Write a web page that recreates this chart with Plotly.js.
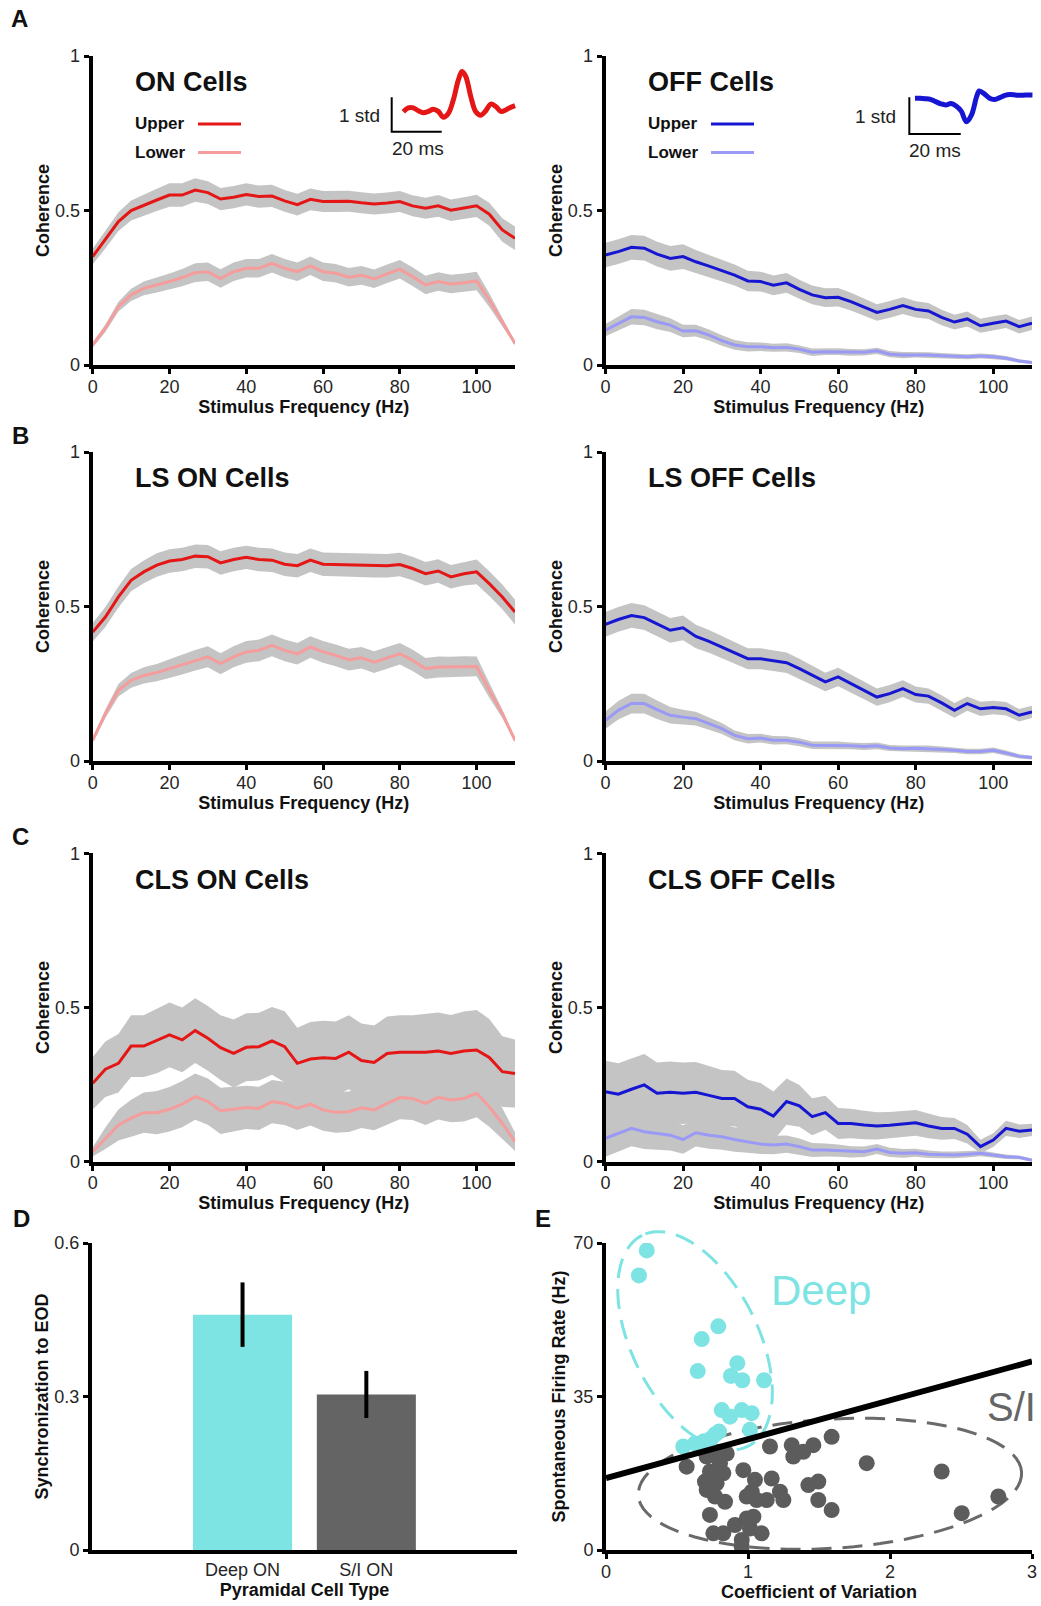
<!DOCTYPE html>
<html><head><meta charset="utf-8">
<script src="https://cdn.plot.ly/plotly-3.0.1.min.js"></script>
<style>html,body{margin:0;padding:0;background:#fff}#chart{width:1041px;height:1606px}</style>
</head><body><div id="chart"></div>
<script>
// ---------------- DATA ----------------
const freq = [0,3.3,6.7,10,13.3,16.7,20,23.3,26.7,30,33.3,36.7,40,43.3,46.7,50,53.3,56.7,60,63.3,66.7,70,73.3,76.7,80,83.3,86.7,90,93.3,96.7,100,103.3,106.7,110];
const freqTicks = [0,20,40,60,80,100];

// A: ON / OFF cells
const aOnUpper = [0.351,0.405,0.464,0.500,0.518,0.534,0.550,0.550,0.566,0.558,0.537,0.543,0.552,0.545,0.547,0.531,0.519,0.536,0.529,0.529,0.530,0.525,0.521,0.524,0.529,0.515,0.507,0.515,0.501,0.508,0.515,0.488,0.437,0.410];
const aOnUpperErr = [0.025,0.028,0.030,0.032,0.034,0.036,0.038,0.038,0.038,0.037,0.036,0.036,0.036,0.036,0.036,0.035,0.035,0.035,0.034,0.034,0.034,0.034,0.034,0.034,0.034,0.034,0.034,0.035,0.035,0.035,0.036,0.037,0.038,0.038];
const aOnLower = [0.065,0.119,0.189,0.227,0.248,0.259,0.270,0.283,0.299,0.302,0.280,0.302,0.313,0.313,0.329,0.313,0.302,0.321,0.302,0.297,0.284,0.290,0.279,0.295,0.310,0.286,0.259,0.270,0.262,0.266,0.272,0.210,0.140,0.070];
const aOnLowerErr = [0.008,0.012,0.016,0.020,0.022,0.024,0.026,0.028,0.030,0.030,0.030,0.030,0.030,0.030,0.030,0.030,0.030,0.030,0.030,0.030,0.030,0.030,0.030,0.030,0.030,0.030,0.030,0.030,0.030,0.030,0.030,0.022,0.014,0.006];
const aOffUpper = [0.356,0.367,0.381,0.378,0.359,0.345,0.351,0.334,0.320,0.305,0.291,0.272,0.270,0.258,0.266,0.245,0.227,0.218,0.219,0.205,0.187,0.170,0.180,0.192,0.180,0.175,0.154,0.139,0.149,0.127,0.135,0.142,0.124,0.135];
const aOffUpperErr = [0.040,0.040,0.040,0.040,0.040,0.040,0.040,0.038,0.036,0.035,0.034,0.033,0.032,0.032,0.032,0.031,0.030,0.030,0.030,0.029,0.028,0.027,0.027,0.027,0.026,0.026,0.025,0.024,0.024,0.023,0.023,0.022,0.022,0.022];
const aOffLower = [0.113,0.135,0.156,0.154,0.140,0.129,0.110,0.111,0.097,0.079,0.065,0.059,0.059,0.056,0.057,0.051,0.041,0.043,0.043,0.041,0.041,0.046,0.035,0.032,0.033,0.032,0.030,0.029,0.027,0.029,0.027,0.022,0.013,0.008];
const aOffLowerErr = [0.020,0.022,0.025,0.025,0.024,0.022,0.020,0.019,0.018,0.017,0.016,0.015,0.014,0.013,0.013,0.012,0.012,0.011,0.011,0.011,0.010,0.010,0.010,0.010,0.009,0.009,0.009,0.008,0.008,0.008,0.008,0.007,0.006,0.005];

// B: LS ON / LS OFF
const bOnUpper = [0.417,0.466,0.531,0.585,0.612,0.634,0.647,0.652,0.663,0.661,0.641,0.652,0.659,0.652,0.650,0.637,0.632,0.650,0.637,0.636,0.634,0.634,0.632,0.632,0.636,0.623,0.606,0.615,0.596,0.606,0.612,0.574,0.531,0.482];
const bOnUpperErr = [0.030,0.032,0.034,0.036,0.037,0.038,0.038,0.038,0.038,0.038,0.038,0.038,0.038,0.038,0.038,0.038,0.038,0.038,0.038,0.038,0.038,0.038,0.038,0.038,0.038,0.038,0.038,0.038,0.038,0.038,0.040,0.040,0.040,0.040];
const bOnLower = [0.067,0.153,0.229,0.261,0.277,0.286,0.299,0.312,0.326,0.337,0.315,0.337,0.353,0.358,0.374,0.358,0.347,0.369,0.353,0.342,0.328,0.334,0.320,0.334,0.347,0.326,0.299,0.304,0.304,0.306,0.306,0.229,0.153,0.067];
const bOnLowerErr = [0.008,0.014,0.020,0.024,0.026,0.028,0.030,0.032,0.033,0.034,0.034,0.034,0.035,0.035,0.035,0.035,0.035,0.035,0.035,0.035,0.035,0.035,0.035,0.035,0.035,0.035,0.034,0.034,0.033,0.033,0.032,0.024,0.014,0.006];
const bOffUpper = [0.442,0.458,0.471,0.464,0.444,0.423,0.431,0.403,0.387,0.369,0.350,0.331,0.331,0.324,0.318,0.299,0.277,0.256,0.272,0.250,0.229,0.207,0.218,0.234,0.215,0.210,0.188,0.164,0.186,0.169,0.173,0.169,0.148,0.159];
const bOffUpperErr = [0.040,0.040,0.040,0.040,0.040,0.040,0.040,0.038,0.037,0.036,0.035,0.034,0.034,0.033,0.033,0.032,0.031,0.030,0.030,0.030,0.029,0.028,0.028,0.027,0.026,0.025,0.025,0.024,0.023,0.023,0.022,0.022,0.020,0.020];
const bOffLower = [0.132,0.164,0.186,0.186,0.166,0.148,0.142,0.137,0.121,0.105,0.083,0.072,0.074,0.067,0.067,0.061,0.051,0.051,0.051,0.049,0.047,0.049,0.042,0.040,0.041,0.040,0.037,0.035,0.031,0.031,0.035,0.026,0.015,0.011];
const bOffLowerErr = [0.028,0.030,0.032,0.032,0.030,0.027,0.024,0.022,0.020,0.018,0.016,0.015,0.014,0.014,0.013,0.013,0.012,0.012,0.012,0.011,0.011,0.011,0.010,0.010,0.010,0.010,0.010,0.009,0.009,0.009,0.009,0.008,0.007,0.006];

// C: CLS ON / CLS OFF
const cOnUpper = [0.254,0.300,0.319,0.375,0.375,0.392,0.411,0.395,0.425,0.400,0.370,0.351,0.371,0.373,0.392,0.373,0.319,0.333,0.337,0.335,0.355,0.328,0.322,0.351,0.355,0.355,0.355,0.359,0.351,0.359,0.362,0.338,0.292,0.286];
const cOnUpperErr = [0.085,0.090,0.095,0.100,0.100,0.105,0.105,0.105,0.105,0.105,0.105,0.110,0.110,0.110,0.110,0.115,0.115,0.120,0.120,0.120,0.120,0.120,0.120,0.120,0.120,0.120,0.125,0.125,0.125,0.128,0.130,0.125,0.115,0.110];
const cOnLower = [0.032,0.076,0.119,0.141,0.159,0.159,0.170,0.187,0.211,0.195,0.165,0.170,0.176,0.173,0.195,0.189,0.173,0.187,0.168,0.160,0.162,0.175,0.168,0.189,0.208,0.205,0.189,0.209,0.200,0.205,0.222,0.178,0.124,0.065];
const cOnLowerErr = [0.015,0.035,0.050,0.060,0.065,0.070,0.072,0.075,0.075,0.075,0.075,0.072,0.070,0.070,0.070,0.070,0.070,0.070,0.068,0.066,0.066,0.066,0.066,0.068,0.070,0.070,0.070,0.072,0.072,0.075,0.078,0.065,0.050,0.030];
const cOffUpper = [0.227,0.219,0.235,0.249,0.222,0.225,0.222,0.225,0.215,0.205,0.205,0.178,0.170,0.148,0.195,0.181,0.146,0.159,0.124,0.124,0.119,0.116,0.118,0.122,0.126,0.116,0.108,0.108,0.089,0.049,0.070,0.108,0.099,0.103];
const cOffUpperErr = [0.100,0.100,0.100,0.100,0.100,0.100,0.100,0.098,0.095,0.092,0.090,0.088,0.085,0.080,0.075,0.068,0.060,0.055,0.050,0.048,0.046,0.044,0.043,0.042,0.042,0.040,0.037,0.034,0.030,0.022,0.022,0.025,0.022,0.020];
const cOffLower = [0.076,0.092,0.108,0.097,0.092,0.086,0.072,0.094,0.086,0.081,0.072,0.065,0.057,0.054,0.057,0.049,0.038,0.038,0.036,0.032,0.032,0.041,0.030,0.027,0.029,0.024,0.022,0.022,0.024,0.027,0.022,0.016,0.014,0.005];
const cOffLowerErr = [0.060,0.060,0.058,0.056,0.054,0.050,0.046,0.045,0.044,0.042,0.040,0.036,0.032,0.030,0.028,0.026,0.023,0.021,0.020,0.018,0.017,0.016,0.015,0.014,0.013,0.012,0.011,0.011,0.010,0.009,0.008,0.007,0.006,0.005];

// Insets: average waveforms (ms, std units)
const onWaveT = [0,2,4,6,8,10,12,14,16,18,20,22,23.5,25,27,29,31,33,35,37,39,41,43,44.7];
const onWaveAmp = [-0.05,0.06,0.06,-0.02,-0.08,-0.04,0.02,-0.04,-0.21,-0.10,0.29,0.87,1.12,0.97,0.39,-0.05,-0.15,-0.02,0.17,0.10,-0.04,0.0,0.08,0.13];
const offWaveT = [0,2,4,6,8,10,12,14,16,18,20,22,24,25,27,29,31,33,35,37,39,41,43,45.7];
const offWaveAmp = [0,0,-0.01,-0.03,-0.09,-0.15,-0.18,-0.14,-0.21,-0.35,-0.64,-0.45,0.05,0.20,0.12,0.0,-0.03,0.02,0.08,0.10,0.09,0.08,0.09,0.09];
const scaleBarMs = 20, scaleBarStd = 1;

// D: synchronization
const cellTypes = ['Deep ON','S/I ON'];
const syncMean = [0.460,0.304];
const syncErr = [0.063,0.046];

// E: spontaneous rate vs CV
const deepCV   = [0.287,0.232,0.791,0.674,0.646,0.925,0.880,0.960,1.113,0.815,0.873,0.956,1.026,1.014,0.796,0.744,0.627,0.544,0.690,0.770];
const deepRate = [68.3,62.6,51.0,48.1,40.8,42.6,39.7,38.7,38.7,31.9,30.4,31.9,31.2,27.4,27.0,25.5,24.3,23.6,24.8,26.4];
const siCV   = [0.568,0.744,0.850,0.803,0.732,0.826,0.697,0.779,0.709,0.768,0.838,0.967,1.049,1.167,1.026,0.991,1.061,1.132,1.225,1.249,0.732,0.756,0.826,0.908,0.991,1.038,1.014,1.096,0.956,0.956,1.155,1.308,1.319,1.390,1.460,1.589,1.425,1.495,1.495,1.589,1.836,2.364,2.763,2.505,0.709,0.803];
const siRate = [19.0,21.7,22.0,19.8,17.9,17.5,15.6,15.2,13.7,12.2,11.0,18.2,16.0,16.3,13.3,12.2,11.4,11.4,13.3,11.4,8.0,3.8,3.8,5.7,7.2,7.6,4.9,3.8,2.3,0.8,23.6,23.9,21.3,22.4,23.9,25.8,14.8,15.6,11.4,9.1,19.8,17.9,12.2,8.4,21.3,22.4];
const dividerCV = [0,3];
const dividerRate = [16.4,43.0];
// group outlines: centre (CV, Hz), semi-axes (px), tilt (deg)
const deepOutline = {cv:0.627, rate:47.7, a:118, b:63, tilt:116.7};
const siOutline   = {cv:1.577, rate:15.1, a:192, b:64.6, tilt:3.5};

// ---------------- LAYOUT HELPERS ----------------
const W = 1041, H = 1606;
const FONT = 'Liberation Sans, Arial, Helvetica, sans-serif';
const px = p => p / W;
const py = p => 1 - p / H;
const COLS = {L:[92.7,515], R:[605.5,1032]};
const ROWS = {A:[56,365], B:[452,761], C:[853.3,1161.7], D:[1243,1550]};
const D_X = [92,517], E_X = [606,1032];
const GRAY_BAND = '#c4c4c4';
const RED = '#e41616', PINK = '#f59c9c', BLUE = '#1616d2', LIGHTBLUE = '#9a9af6';
const CYAN = '#7ee3e3', DARK = '#5c5c5c';

const axStyle = {
  showline:true, linewidth:4, linecolor:'#000', ticks:'outside', ticklen:5, tickwidth:3,
  tickcolor:'#000', showgrid:false, zeroline:false, fixedrange:true,
  tickfont:{size:18, color:'#262626', family:FONT}
};
const titleFont = {size:18, color:'#111', family:FONT};

function xDom(c){ return [px(c[0]), px(c[1])]; }
function yDom(r){ return [py(r[1]), py(r[0])]; }

const layout = {
  width:W, height:H, margin:{l:0,r:0,t:0,b:0},
  paper_bgcolor:'#fff', plot_bgcolor:'rgba(0,0,0,0)', showlegend:false,
  font:{family:FONT, color:'#111'},
  annotations:[], shapes:[]
};

const data = [];
const panels = [
  {n:1, col:'L', row:'A', up:aOnUpper, upE:aOnUpperErr, lo:aOnLower, loE:aOnLowerErr, c1:RED, c2:PINK, title:'ON Cells', legend:true},
  {n:2, col:'R', row:'A', up:aOffUpper, upE:aOffUpperErr, lo:aOffLower, loE:aOffLowerErr, c1:BLUE, c2:LIGHTBLUE, title:'OFF Cells', legend:true},
  {n:3, col:'L', row:'B', up:bOnUpper, upE:bOnUpperErr, lo:bOnLower, loE:bOnLowerErr, c1:RED, c2:PINK, title:'LS ON Cells'},
  {n:4, col:'R', row:'B', up:bOffUpper, upE:bOffUpperErr, lo:bOffLower, loE:bOffLowerErr, c1:BLUE, c2:LIGHTBLUE, title:'LS OFF Cells'},
  {n:5, col:'L', row:'C', up:cOnUpper, upE:cOnUpperErr, lo:cOnLower, loE:cOnLowerErr, c1:RED, c2:PINK, title:'CLS ON Cells'},
  {n:6, col:'R', row:'C', up:cOffUpper, upE:cOffUpperErr, lo:cOffLower, loE:cOffLowerErr, c1:BLUE, c2:LIGHTBLUE, title:'CLS OFF Cells'}
];

function band(mean, err, xa, ya){
  const hi = mean.map((m,i)=>m+err[i]);
  const lo = mean.map((m,i)=>m-err[i]);
  return {x:freq.concat(freq.slice().reverse()), y:hi.concat(lo.slice().reverse()),
    xaxis:xa, yaxis:ya, type:'scatter', mode:'lines', fill:'toself', fillcolor:GRAY_BAND,
    line:{width:0, color:GRAY_BAND}, hoverinfo:'skip'};
}

panels.forEach(p=>{
  const xa = 'x'+(p.n===1?'':p.n), ya = 'y'+(p.n===1?'':p.n);
  const xk = 'xaxis'+(p.n===1?'':p.n), yk = 'yaxis'+(p.n===1?'':p.n);
  layout[xk] = Object.assign({}, axStyle, {domain:xDom(COLS[p.col]), anchor:ya, range:[0,110], ticklabelstandoff:-3,
    tickvals:freqTicks, title:{text:'<b>Stimulus Frequency (Hz)</b>', font:titleFont, standoff:0}});
  layout[yk] = Object.assign({}, axStyle, {domain:yDom(ROWS[p.row]), anchor:xa, range:[0,1],
    tickvals:[0,0.5,1], ticktext:['0','0.5','1'], title:{text:'<b>Coherence</b>', font:titleFont, standoff:2}});
  data.push(band(p.up, p.upE, xa, ya));
  data.push(band(p.lo, p.loE, xa, ya));
  data.push({x:freq, y:p.lo, xaxis:xa, yaxis:ya, type:'scatter', mode:'lines', line:{color:p.c2, width:3}, name:'Lower'});
  data.push({x:freq, y:p.up, xaxis:xa, yaxis:ya, type:'scatter', mode:'lines', line:{color:p.c1, width:3}, name:'Upper'});
  const tx = p.col==='L' ? 133 : 646;
  const tY = {A:81.7, B:478, C:880}[p.row];
  layout.annotations.push({xref:'paper', yref:'paper', x:px(tx), y:py(tY), xanchor:'left', yanchor:'middle',
    text:'<b>'+p.title+'</b>', showarrow:false, font:{size:27, color:'#111', family:FONT}});
  if(p.legend){
    const lx0 = p.col==='L' ? 198 : 711, lx1 = lx0 + 43;
    [['Upper',123.5,p.c1],['Lower',152,p.c2]].forEach(([lab,yy,col])=>{
      layout.annotations.push({xref:'paper', yref:'paper', x:px(tx), y:py(yy), xanchor:'left', yanchor:'middle',
        text:'<b>'+lab+'</b>', showarrow:false, font:{size:17, color:'#111', family:FONT}});
      layout.shapes.push({type:'line', xref:'paper', yref:'paper', x0:px(lx0), x1:px(lx1), y0:py(yy+0.5), y1:py(yy+0.5),
        line:{color:col, width:3}});
    });
  }
});

// ---- Insets (waveforms with scale bars)
layout.xaxis9  = {domain:[px(388.3), px(518.3)], range:[-6,46], visible:false, fixedrange:true, anchor:'y9'};
layout.yaxis9  = {domain:[py(137.5), py(65.3)], range:[-0.8,1.3], visible:false, fixedrange:true, anchor:'x9'};
layout.xaxis10 = {domain:[px(904.7), px(1035.8)], range:[-4,47], visible:false, fixedrange:true, anchor:'y10'};
layout.yaxis10 = {domain:[py(138.7), py(83.6)], range:[-1.1,0.4], visible:false, fixedrange:true, anchor:'x10'};
function scaleBar(t0, a0, xa, ya){
  return {x:[t0, t0, t0+scaleBarMs], y:[a0+scaleBarStd, a0, a0], xaxis:xa, yaxis:ya, type:'scatter', mode:'lines',
    line:{color:'#000', width:2}, hoverinfo:'skip'};
}
data.push(scaleBar(-4.64, -0.63, 'x9', 'y9'));
data.push({x:onWaveT, y:onWaveAmp, xaxis:'x9', yaxis:'y9', type:'scatter', mode:'lines', line:{color:RED, width:5, shape:'spline'}});
data.push(scaleBar(-2.2, -0.97, 'x10', 'y10'));
data.push({x:offWaveT, y:offWaveAmp, xaxis:'x10', yaxis:'y10', type:'scatter', mode:'lines', line:{color:BLUE, width:5, shape:'spline'}});
[[382,116,'1 std','right'],[418,148,'20 ms','center'],[898,117,'1 std','right'],[935,150,'20 ms','center']].forEach(([x,y,t,an])=>{
  layout.annotations.push({xref:'paper', yref:'paper', x:px(x), y:py(y), xanchor:an, yanchor:'middle', text:t,
    showarrow:false, font:{size:19, color:'#222', family:FONT}});
});

// ---- D: bars
layout.xaxis7 = Object.assign({}, axStyle, {domain:xDom(D_X), anchor:'y7', type:'category', range:[-1.216,2.217],
  ticks:'', title:{text:'<b>Pyramidal Cell Type</b>', font:titleFont, standoff:2}});
layout.yaxis7 = Object.assign({}, axStyle, {domain:yDom(ROWS.D), anchor:'x7', range:[0,0.6],
  tickvals:[0,0.3,0.6], ticktext:['0','0.3','0.6'], title:{text:'<b>Synchronization to EOD</b>', font:titleFont, standoff:2}});
data.push({x:cellTypes, y:syncMean, xaxis:'x7', yaxis:'y7', type:'bar', width:0.8,
  marker:{color:[CYAN, '#646464'], line:{width:0}},
  error_y:{type:'data', array:syncErr, visible:true, color:'#000', thickness:4, width:0}});

// ---- E: scatter
layout.xaxis8 = Object.assign({}, axStyle, {domain:xDom(E_X), anchor:'y8', range:[0,3], tickvals:[0,1,2,3], ticklabelstandoff:-3,
  title:{text:'<b>Coefficient of Variation</b>', font:titleFont, standoff:0}});
layout.yaxis8 = Object.assign({}, axStyle, {domain:yDom(ROWS.D), anchor:'x8', range:[0,70], tickvals:[0,35,70],
  title:{text:'<b>Spontaneous Firing Rate (Hz)</b>', font:titleFont, standoff:4}});
data.push({x:deepCV, y:deepRate, xaxis:'x8', yaxis:'y8', type:'scatter', mode:'markers', name:'Deep',
  marker:{size:16, color:CYAN, line:{width:0}}});
data.push({x:siCV, y:siRate, xaxis:'x8', yaxis:'y8', type:'scatter', mode:'markers', name:'S/I',
  marker:{size:16, color:DARK, line:{width:0}}});
data.push({x:dividerCV, y:dividerRate, xaxis:'x8', yaxis:'y8', type:'scatter', mode:'lines',
  line:{color:'#000', width:6}, hoverinfo:'skip'});

// outlines: convert CV/Hz centre through the E axis scale, draw tilted ellipse in paper space
const ePxX = v => E_X[0] + v * (E_X[1]-E_X[0]) / 3;
const ePxY = v => ROWS.D[1] - v * (ROWS.D[1]-ROWS.D[0]) / 70;
function ellipsePath(o){
  const cx = ePxX(o.cv), cy = ePxY(o.rate), phi = o.tilt*Math.PI/180;
  let d = '';
  for(let i=0;i<=90;i++){
    const t = i/90*2*Math.PI;
    const dx = o.a*Math.cos(t)*Math.cos(phi) - o.b*Math.sin(t)*Math.sin(phi);
    const dy = o.a*Math.cos(t)*Math.sin(phi) + o.b*Math.sin(t)*Math.cos(phi);
    d += (i?'L':'M') + px(cx+dx).toFixed(5) + ',' + py(cy-dy).toFixed(5);
  }
  return d + 'Z';
}
layout.shapes.push({type:'path', xref:'paper', yref:'paper', path:ellipsePath(deepOutline), layer:'below',
  line:{color:CYAN, width:3, dash:'20px,11px'}});
layout.shapes.push({type:'path', xref:'paper', yref:'paper', path:ellipsePath(siOutline), layer:'below',
  line:{color:'#6a6a6a', width:3, dash:'20px,11px'}});
layout.annotations.push({xref:'paper', yref:'paper', x:px(821), y:py(1290), xanchor:'center', yanchor:'middle',
  text:'Deep', showarrow:false, font:{size:42, color:CYAN, family:FONT}});
layout.annotations.push({xref:'paper', yref:'paper', x:px(985), y:py(1407), xanchor:'left', yanchor:'middle',
  text:'S/I', showarrow:false, font:{size:40, color:'#666', family:FONT}});

// panel letters
[['A',19,18],['B',20.5,436],['C',20.5,836],['D',21,1218],['E',543,1218]].forEach(([t,x,y])=>{
  layout.annotations.push({xref:'paper', yref:'paper', x:px(x), y:py(y), xanchor:'center', yanchor:'middle',
    text:'<b>'+t+'</b>', showarrow:false, font:{size:24, color:'#111', family:FONT}});
});

Plotly.newPlot('chart', data, layout, {displayModeBar:false, staticPlot:true});
</script></body></html>
